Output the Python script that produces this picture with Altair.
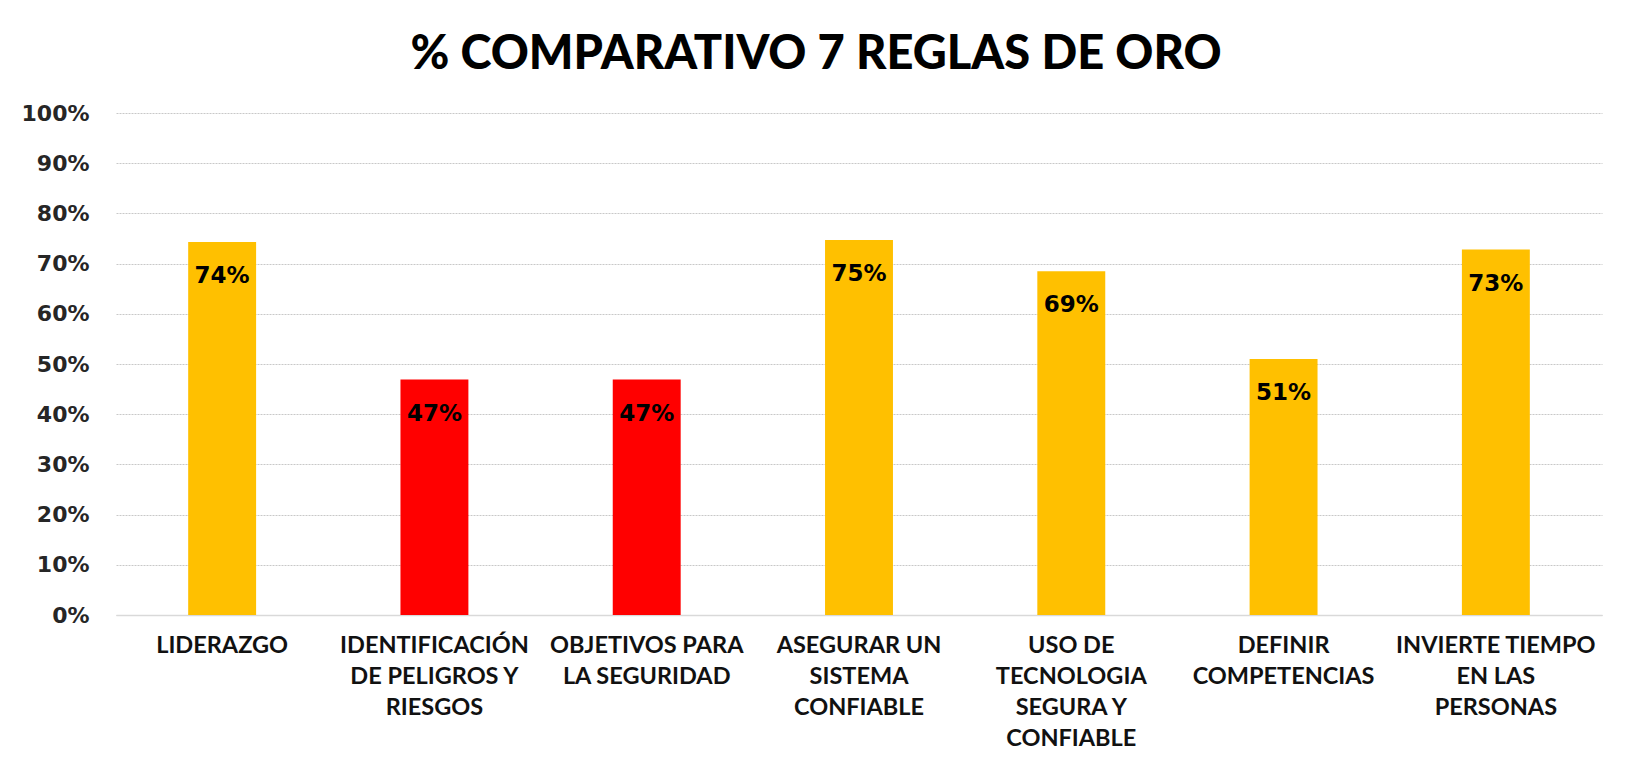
import altair as alt
import pandas as pd

categories = [
    "LIDERAZGO",
    "IDENTIFICACIÓN|DE PELIGROS Y|RIESGOS",
    "OBJETIVOS PARA|LA SEGURIDAD",
    "ASEGURAR UN|SISTEMA|CONFIABLE",
    "USO DE|TECNOLOGIA|SEGURA Y|CONFIABLE",
    "DEFINIR|COMPETENCIAS",
    "INVIERTE TIEMPO|EN LAS|PERSONAS",
]
values = [0.743, 0.469, 0.469, 0.747, 0.685, 0.510, 0.728]
colors = ["#FFC000", "#FF0000", "#FF0000", "#FFC000", "#FFC000", "#FFC000", "#FFC000"]
y_ticks = [0, 0.1, 0.2, 0.3, 0.4, 0.5, 0.6, 0.7, 0.8, 0.9, 1.0]

df = pd.DataFrame({"cat": categories, "val": values, "color": colors})

x = alt.X(
    "cat:N",
    sort=categories,
    scale=alt.Scale(paddingInner=0.68, paddingOuter=0.34),
    axis=alt.Axis(
        title=None,
        labelAngle=0,
        labelExpr="split(datum.label, '|')",
        labelFont="Lato",
        labelFontSize=23.5,
        labelFontWeight="bold",
        labelColor="#111111",
        labelLineHeight=31,
        labelPadding=18,
        labelBaseline="top",
        labelLimit=400,
        ticks=False,
        domain=True,
        domainColor="#d9d9d9",
        domainWidth=1.5,
        grid=False,
    ),
)

y = alt.Y(
    "val:Q",
    scale=alt.Scale(domain=[0, 1]),
    axis=alt.Axis(
        title=None,
        values=y_ticks,
        format=".0%",
        labelFont="DejaVu Sans",
        labelFontWeight="bold",
        labelFontSize=22,
        labelColor="#262626",
        labelPadding=27,
        ticks=False,
        domain=False,
        grid=True,
        gridColor="#c8c8c8",
        gridDash=[2, 1],
        gridWidth=1,
    ),
)

bars = alt.Chart(df).mark_bar().encode(
    x=x,
    y=y,
    color=alt.Color("color:N", scale=None),
)

labels = alt.Chart(df).mark_text(
    baseline="middle",
    dy=34,
    font="DejaVu Sans",
    fontWeight="bold",
    fontSize=23,
    color="#000000",
).encode(
    x=alt.X("cat:N", sort=categories),
    y=alt.Y("val:Q"),
    text=alt.Text("val:Q", format=".0%"),
)

chart = (
    alt.layer(bars, labels)
    .properties(
        width=1486,
        height=502,
        autosize=alt.AutoSizeParams(type="none"),
        padding={"left": 108, "top": 105, "right": 20, "bottom": 140},
        view=alt.ViewBackground(stroke="transparent", strokeWidth=0),
        title=alt.TitleParams(
            "% COMPARATIVO 7 REGLAS DE ORO",
            font="Lato",
            fontSize=47,
            fontWeight=900,
            color="#000000",
            anchor="middle",
            dx=-43,
            offset=23,
        ),
    )
    .configure_view(stroke="transparent", strokeWidth=0)
    .configure(background="#ffffff")
)

chart.save("out.html", embed_options={"renderer": "svg", "actions": False})
